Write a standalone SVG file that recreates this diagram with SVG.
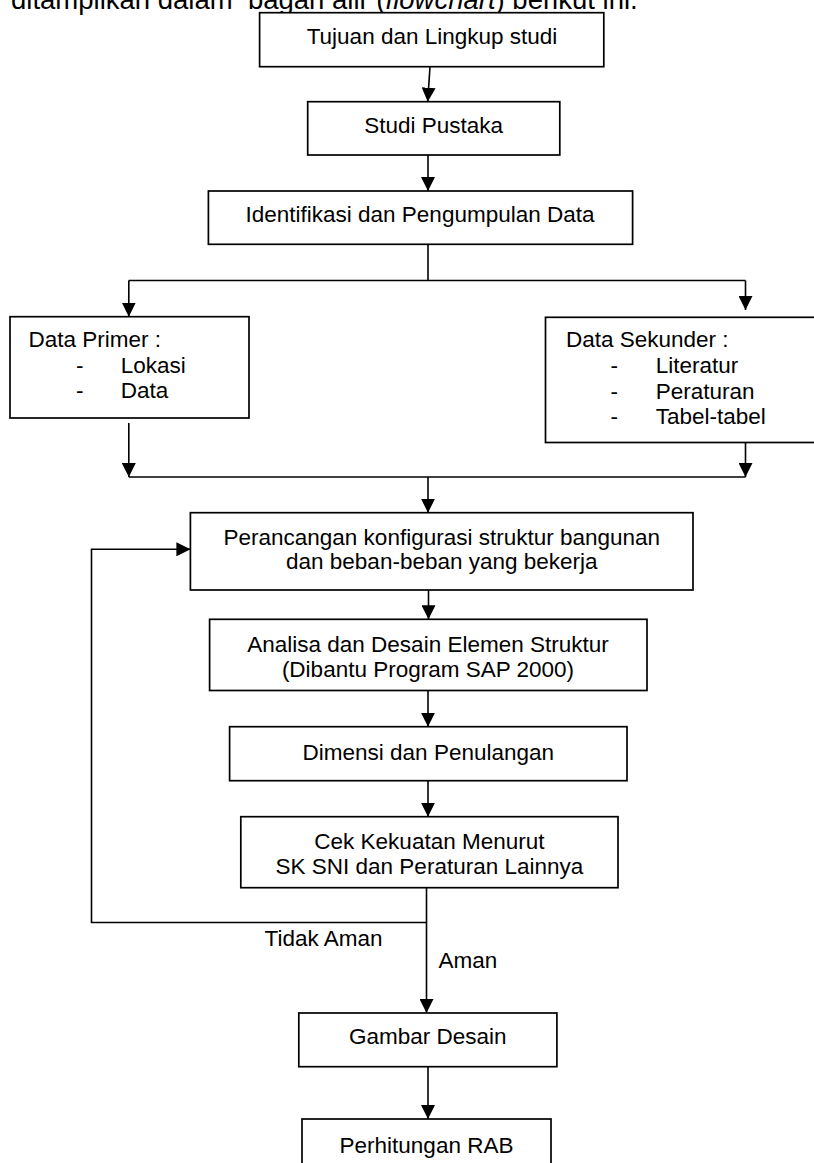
<svg xmlns="http://www.w3.org/2000/svg" width="814" height="1163" viewBox="0 0 814 1163">
<defs>
<marker id="ah" markerUnits="userSpaceOnUse" markerWidth="14" markerHeight="14" refX="14" refY="7" orient="auto">
<path d="M0,0 L14,7 L0,14 z" fill="#000"/>
</marker>
<style>
.b{fill:#fff;stroke:#000;stroke-width:1.7}
.t{font-family:"Liberation Sans",Arial,sans-serif;font-size:22.5px;fill:#000}
.m{text-anchor:middle}
.c{fill:none;stroke:#000;stroke-width:1.6}
.a{marker-end:url(#ah)}
</style>
</defs>
<rect width="814" height="1163" fill="#fff"/>
<text class="t" x="11" y="9" style="font-size:27.5px;white-space:pre" xml:space="preserve">ditampilkan dalam  bagan alir (<tspan font-style="italic">flowchart</tspan>) berikut ini.</text>

<g id="connectors">
<line class="c a" x1="430" y1="66.7" x2="427.7" y2="101.7"/>
<line class="c a" x1="428" y1="155" x2="428" y2="191"/>
<line class="c" x1="428" y1="244.3" x2="428" y2="280.5"/>
<line class="c" x1="128.8" y1="280.5" x2="745.5" y2="280.5"/>
<line class="c a" x1="128.8" y1="280.5" x2="128.8" y2="316.7"/>
<line class="c a" x1="745.5" y1="280.5" x2="745.5" y2="310"/>
<line class="c a" x1="128.8" y1="423" x2="128.8" y2="477"/>
<line class="c a" x1="745.5" y1="442.5" x2="745.5" y2="477"/>
<line class="c" x1="128.8" y1="477" x2="745.5" y2="477"/>
<line class="c a" x1="428" y1="477" x2="428" y2="512.7"/>
<line class="c a" x1="428.5" y1="590" x2="428.5" y2="619.3"/>
<line class="c a" x1="428" y1="690.5" x2="428" y2="726.7"/>
<line class="c a" x1="428" y1="780.7" x2="428" y2="816.7"/>
<line class="c a" x1="426.5" y1="887.7" x2="426.5" y2="1013"/>
<polyline class="c a" points="426.5,922.5 91.5,922.5 91.5,549.3 190.4,549.3"/>
<line class="c a" x1="428" y1="1066.7" x2="428" y2="1119"/>
</g>

<g id="lbl-tidak"><text class="t" x="264.5" y="946">Tidak Aman</text></g>
<g id="lbl-aman"><text class="t" x="438.5" y="968">Aman</text></g>

<g id="n1"><rect class="b" x="259.6" y="12.7" width="344.2" height="54"/>
<text class="t m" x="432" y="44">Tujuan dan Lingkup studi</text></g>

<g id="n2"><rect class="b" x="307.7" y="101.7" width="252.1" height="53.3"/>
<text class="t m" x="433.6" y="133">Studi Pustaka</text></g>

<g id="n3"><rect class="b" x="208.4" y="191" width="424.2" height="53.3"/>
<text class="t m" x="420" y="222">Identifikasi dan Pengumpulan Data</text></g>

<g id="n4"><rect class="b" x="10" y="316.7" width="239" height="101.3"/>
<text class="t" x="28.5" y="346.7">Data Primer :</text>
<text class="t" x="76" y="372.5">-</text><text class="t" x="120.7" y="372.5">Lokasi</text>
<text class="t" x="76" y="398">-</text><text class="t" x="120.7" y="398">Data</text></g>

<g id="n5"><rect class="b" x="545.5" y="317.3" width="290" height="125.2"/>
<text class="t" x="566" y="347">Data Sekunder :</text>
<text class="t" x="610.5" y="373">-</text><text class="t" x="655.8" y="373">Literatur</text>
<text class="t" x="610.5" y="398.5">-</text><text class="t" x="655.8" y="398.5">Peraturan</text>
<text class="t" x="610.5" y="424">-</text><text class="t" x="655.8" y="424">Tabel-tabel</text></g>

<g id="n6"><rect class="b" x="190.4" y="512.7" width="502.6" height="77.3"/>
<text class="t m" x="441.8" y="545">Perancangan konfigurasi struktur bangunan</text>
<text class="t m" x="441.8" y="569">dan beban-beban yang bekerja</text></g>

<g id="n7"><rect class="b" x="209.6" y="619.3" width="437.4" height="71.2"/>
<text class="t m" x="428" y="651.5">Analisa dan Desain Elemen Struktur</text>
<text class="t m" x="428" y="676.5">(Dibantu Program SAP 2000)</text></g>

<g id="n8"><rect class="b" x="229.6" y="726.7" width="397.4" height="54"/>
<text class="t m" x="428.3" y="760">Dimensi dan Penulangan</text></g>

<g id="n9"><rect class="b" x="240.8" y="816.7" width="377.2" height="71"/>
<text class="t m" x="429.4" y="848.5">Cek Kekuatan Menurut</text>
<text class="t m" x="429.4" y="873.5">SK SNI dan Peraturan Lainnya</text></g>

<g id="n10"><rect class="b" x="298.8" y="1013" width="258.1" height="53.7"/>
<text class="t m" x="427.8" y="1044">Gambar Desain</text></g>

<g id="n11"><rect class="b" x="302" y="1119" width="249" height="60"/>
<text class="t m" x="426.5" y="1153">Perhitungan RAB</text></g>
</svg>
